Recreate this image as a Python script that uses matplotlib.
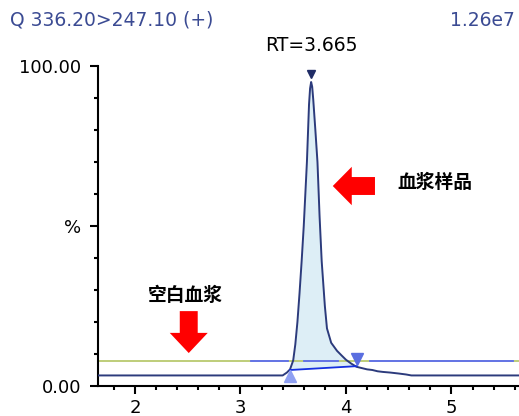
import matplotlib
matplotlib.use("Agg")
import matplotlib.pyplot as plt
import numpy as np
from matplotlib.patches import FancyArrow
from matplotlib.ticker import MultipleLocator, FixedLocator

plt.rcParams['font.family'] = ['DejaVu Sans', 'Noto Sans CJK SC']

# Sample chromatogram (血浆样品) trace: time (min), relative intensity (%)
t_sample = [1.65, 3.40, 3.44, 3.47, 3.50, 3.52, 3.54, 3.56, 3.58, 3.60, 3.63, 3.65, 3.66, 3.67,
            3.68, 3.69, 3.71, 3.73, 3.75, 3.77, 3.80, 3.82, 3.86, 3.915, 3.96, 4.00, 4.05,
            4.10, 4.15, 4.20, 4.25, 4.30, 4.35, 4.42, 4.50, 4.57, 4.62, 5.64]
i_sample = [3.3, 3.3, 4.2, 5.2, 8.0, 13.0, 20.0, 29.0, 39.0, 50.0, 70.0, 88.0, 93.0, 95.0,
            93.5, 89.5, 80.0, 70.0, 53.0, 39.0, 25.0, 18.0, 13.5, 11.0, 9.5, 8.2, 7.0,
            6.0, 5.6, 5.2, 5.0, 4.6, 4.4, 4.2, 3.9, 3.6, 3.3, 3.3]

# Blank plasma (空白血浆) trace
t_blank = [1.65, 5.64]
i_blank = [7.9, 7.9]
# Blue overlay segments on blank level
blue_segments = [(3.10, 3.45), (3.60, 3.92), (4.23, 5.58)]

# Integration baseline
t_base = [3.47, 4.10]
i_base = [5.0, 6.2]

peak_rt = 3.665
peak_t = 3.67
peak_top = 97.5

fig = plt.figure(figsize=(5.19, 4.16), dpi=100)
ax = fig.add_axes([98/519, 30/416, 421/519, 320/416])
ax.set_xlim(1.65, 5.64)
ax.set_ylim(0, 100)

navy = '#2c3b7c'
ax.plot(t_blank, i_blank, color='#b9c96e', lw=1.3, zorder=2)
for a, b in blue_segments:
    ax.plot([a, b], [i_blank[0], i_blank[0]], color='#5c6cf0', lw=1.3, zorder=2.1)

# fill under peak above baseline
ts = np.array(t_sample); is_ = np.array(i_sample)
mask = (ts >= t_base[0]) & (ts <= t_base[1])
tf = ts[mask]; yf = is_[mask]
bl = np.interp(tf, t_base, i_base)
ax.fill_between(tf, bl, yf, color='#ddeef6', zorder=1.5, lw=0)

ax.plot(t_sample, i_sample, color=navy, lw=1.4, zorder=3)
ax.plot(t_base, i_base, color='#1530e0', lw=1.3, zorder=3.5)
ax.plot([t_base[0]], [3.2], marker='^', color='#8fa0f2', ms=8, zorder=4, clip_on=False)
ax.plot([t_base[1]], [8.4], marker='v', color='#5a6ee0', ms=8, zorder=4)
ax.plot([peak_t], [peak_top], marker='v', color='#1f2c66', ms=6, zorder=4)

ax.text(peak_t, 103.5, f'RT={peak_rt}', ha='center', va='bottom', fontsize=13.5)

ax.spines['top'].set_visible(False)
ax.spines['right'].set_visible(False)
ax.spines['left'].set_linewidth(1.5)
ax.spines['bottom'].set_linewidth(1.5)
ax.xaxis.set_major_locator(FixedLocator([2, 3, 4, 5]))
ax.xaxis.set_minor_locator(MultipleLocator(0.2))
ax.yaxis.set_major_locator(FixedLocator([0, 50, 100]))
ax.yaxis.set_minor_locator(MultipleLocator(10))
ax.set_yticklabels(['0.00', '%', '100.00'])
ax.tick_params(axis='both', which='major', length=6, width=1.5, labelsize=13)
ax.tick_params(axis='y', which='major', pad=6)
ax.tick_params(axis='both', which='minor', length=3, width=1.5)

# arrows
ax.add_patch(FancyArrow(4.275, 62.5, -0.40, 0, width=5.6, head_width=12, head_length=0.18,
                        length_includes_head=True, color='#ff0000', lw=0, zorder=5))
ax.add_patch(FancyArrow(2.51, 23.4, 0, -13.1, width=0.17, head_width=0.36, head_length=6.3,
                        length_includes_head=True, color='#ff0000', lw=0, zorder=5))
ax.text(4.84, 63.7, '血浆样品', fontsize=13.5, fontweight='bold', ha='center', va='center',
        family=['Noto Sans CJK SC'])
ax.text(2.48, 28.4, '空白血浆', fontsize=13.5, fontweight='bold', ha='center', va='center',
        family=['Noto Sans CJK SC'])

fig.text(10/519, 1 - 20/416, 'Q 336.20>247.10 (+)', color='#3b4b93', fontsize=13.5,
         ha='left', va='center')
fig.text(515/519, 1 - 20/416, '1.26e7', color='#3b4b93', fontsize=13.5, ha='right', va='center')

fig.savefig('out.png', dpi=100)
